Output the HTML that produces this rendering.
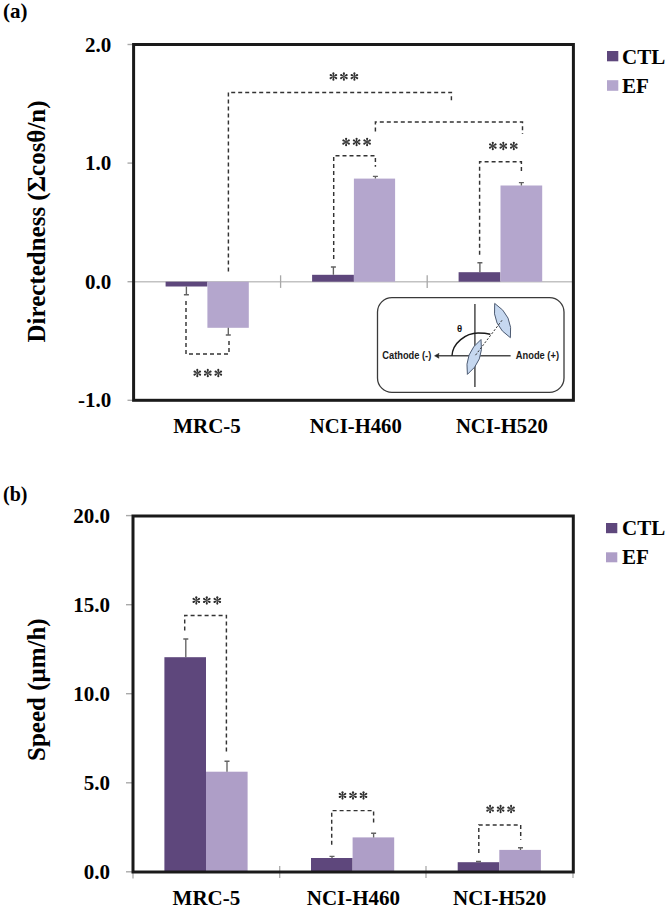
<!DOCTYPE html>
<html><head><meta charset="utf-8">
<style>
html,body{margin:0;padding:0;background:#fff;width:665px;height:906px;overflow:hidden}
svg{display:block}
.t{font-family:"Liberation Serif",serif;font-weight:bold;fill:#000}
.s{font-family:"Liberation Sans",sans-serif;font-weight:bold;fill:#1a1a1a}
.ast{font-family:"Liberation Serif",serif;font-weight:normal;fill:#2a2a2a}
</style></head><body>
<svg width="665" height="906" viewBox="0 0 665 906">

<text class="t" x="3" y="18.3" font-size="21">(a)</text>
<g class="t" font-size="21" text-anchor="end">
<text x="111.3" y="51.5">2.0</text>
<text x="111.3" y="170.1">1.0</text>
<text x="111.3" y="288.7">0.0</text>
<text x="111.3" y="407.3">-1.0</text>
</g>
<g stroke="#aaa" stroke-width="1.4">
<line x1="127.5" y1="44.5" x2="133" y2="44.5"/>
<line x1="127.5" y1="163.1" x2="133" y2="163.1"/>
<line x1="127.5" y1="281.7" x2="133" y2="281.7"/>
<line x1="127.5" y1="400.3" x2="133" y2="400.3"/>
</g>
<line x1="133" y1="281.7" x2="573" y2="281.7" stroke="#c2c2c2" stroke-width="1.5"/>
<g stroke="#a8a8a8" stroke-width="1.3"><line x1="280.6" y1="275.3" x2="280.6" y2="287.9"/><line x1="427.2" y1="275.3" x2="427.2" y2="287.9"/></g>
<g fill="#5e477c">
<rect x="165.6" y="281.7" width="41.8" height="4.8"/>
<rect x="312.1" y="274.8" width="41.8" height="6.9"/>
<rect x="458.6" y="272.2" width="41.8" height="9.5"/>
</g>
<g fill="#b4a6cd">
<rect x="207.4" y="281.7" width="41.4" height="46.1"/>
<rect x="353.9" y="178.6" width="41.2" height="103.1"/>
<rect x="500.5" y="185.5" width="41.7" height="96.2"/>
</g>
<g stroke="#626262" stroke-width="1.35" fill="none">
<path d="M186.4 286.5V294.7M183.9 294.7H188.9"/>
<path d="M228.3 327.8V335M225.8 335H230.8"/>
<path d="M333.4 274.7V267M330.9 267H335.9"/>
<path d="M375.4 178.5V176.4M372.9 176.4H377.9"/>
<path d="M479.9 272.2V262.7M477.4 262.7H482.4"/>
<path d="M521.4 185.6V182.6M518.9 182.6H523.9"/>
</g>
<g stroke="#333" stroke-width="1.45" fill="none" stroke-dasharray="4 3">
<path d="M186 301V354H229V341"/>
<path d="M228.4 271.6V92.4H451.4V102.6"/>
<path d="M375.4 131.6V122H522.5V134"/>
<path d="M333.7 259V155.8H375.4V166.7"/>
<path d="M479.6 254.7V161.7H521.4V171.4"/>
</g>
<g fill="#2e2e2e"><g transform="translate(333.40 76.60)"><path d="M-0.22 0L-1.05 -3.20A1.05 1.05 0 1 1 1.05 -3.20L0.22 0Z" transform="rotate(0)"/><path d="M-0.22 0L-1.05 -3.20A1.05 1.05 0 1 1 1.05 -3.20L0.22 0Z" transform="rotate(60)"/><path d="M-0.22 0L-1.05 -3.20A1.05 1.05 0 1 1 1.05 -3.20L0.22 0Z" transform="rotate(120)"/><path d="M-0.22 0L-1.05 -3.20A1.05 1.05 0 1 1 1.05 -3.20L0.22 0Z" transform="rotate(180)"/><path d="M-0.22 0L-1.05 -3.20A1.05 1.05 0 1 1 1.05 -3.20L0.22 0Z" transform="rotate(240)"/><path d="M-0.22 0L-1.05 -3.20A1.05 1.05 0 1 1 1.05 -3.20L0.22 0Z" transform="rotate(300)"/></g><g transform="translate(343.90 76.60)"><path d="M-0.22 0L-1.05 -3.20A1.05 1.05 0 1 1 1.05 -3.20L0.22 0Z" transform="rotate(0)"/><path d="M-0.22 0L-1.05 -3.20A1.05 1.05 0 1 1 1.05 -3.20L0.22 0Z" transform="rotate(60)"/><path d="M-0.22 0L-1.05 -3.20A1.05 1.05 0 1 1 1.05 -3.20L0.22 0Z" transform="rotate(120)"/><path d="M-0.22 0L-1.05 -3.20A1.05 1.05 0 1 1 1.05 -3.20L0.22 0Z" transform="rotate(180)"/><path d="M-0.22 0L-1.05 -3.20A1.05 1.05 0 1 1 1.05 -3.20L0.22 0Z" transform="rotate(240)"/><path d="M-0.22 0L-1.05 -3.20A1.05 1.05 0 1 1 1.05 -3.20L0.22 0Z" transform="rotate(300)"/></g><g transform="translate(354.40 76.60)"><path d="M-0.22 0L-1.05 -3.20A1.05 1.05 0 1 1 1.05 -3.20L0.22 0Z" transform="rotate(0)"/><path d="M-0.22 0L-1.05 -3.20A1.05 1.05 0 1 1 1.05 -3.20L0.22 0Z" transform="rotate(60)"/><path d="M-0.22 0L-1.05 -3.20A1.05 1.05 0 1 1 1.05 -3.20L0.22 0Z" transform="rotate(120)"/><path d="M-0.22 0L-1.05 -3.20A1.05 1.05 0 1 1 1.05 -3.20L0.22 0Z" transform="rotate(180)"/><path d="M-0.22 0L-1.05 -3.20A1.05 1.05 0 1 1 1.05 -3.20L0.22 0Z" transform="rotate(240)"/><path d="M-0.22 0L-1.05 -3.20A1.05 1.05 0 1 1 1.05 -3.20L0.22 0Z" transform="rotate(300)"/></g><g transform="translate(346.10 142.00)"><path d="M-0.22 0L-1.05 -3.20A1.05 1.05 0 1 1 1.05 -3.20L0.22 0Z" transform="rotate(0)"/><path d="M-0.22 0L-1.05 -3.20A1.05 1.05 0 1 1 1.05 -3.20L0.22 0Z" transform="rotate(60)"/><path d="M-0.22 0L-1.05 -3.20A1.05 1.05 0 1 1 1.05 -3.20L0.22 0Z" transform="rotate(120)"/><path d="M-0.22 0L-1.05 -3.20A1.05 1.05 0 1 1 1.05 -3.20L0.22 0Z" transform="rotate(180)"/><path d="M-0.22 0L-1.05 -3.20A1.05 1.05 0 1 1 1.05 -3.20L0.22 0Z" transform="rotate(240)"/><path d="M-0.22 0L-1.05 -3.20A1.05 1.05 0 1 1 1.05 -3.20L0.22 0Z" transform="rotate(300)"/></g><g transform="translate(356.60 142.00)"><path d="M-0.22 0L-1.05 -3.20A1.05 1.05 0 1 1 1.05 -3.20L0.22 0Z" transform="rotate(0)"/><path d="M-0.22 0L-1.05 -3.20A1.05 1.05 0 1 1 1.05 -3.20L0.22 0Z" transform="rotate(60)"/><path d="M-0.22 0L-1.05 -3.20A1.05 1.05 0 1 1 1.05 -3.20L0.22 0Z" transform="rotate(120)"/><path d="M-0.22 0L-1.05 -3.20A1.05 1.05 0 1 1 1.05 -3.20L0.22 0Z" transform="rotate(180)"/><path d="M-0.22 0L-1.05 -3.20A1.05 1.05 0 1 1 1.05 -3.20L0.22 0Z" transform="rotate(240)"/><path d="M-0.22 0L-1.05 -3.20A1.05 1.05 0 1 1 1.05 -3.20L0.22 0Z" transform="rotate(300)"/></g><g transform="translate(367.10 142.00)"><path d="M-0.22 0L-1.05 -3.20A1.05 1.05 0 1 1 1.05 -3.20L0.22 0Z" transform="rotate(0)"/><path d="M-0.22 0L-1.05 -3.20A1.05 1.05 0 1 1 1.05 -3.20L0.22 0Z" transform="rotate(60)"/><path d="M-0.22 0L-1.05 -3.20A1.05 1.05 0 1 1 1.05 -3.20L0.22 0Z" transform="rotate(120)"/><path d="M-0.22 0L-1.05 -3.20A1.05 1.05 0 1 1 1.05 -3.20L0.22 0Z" transform="rotate(180)"/><path d="M-0.22 0L-1.05 -3.20A1.05 1.05 0 1 1 1.05 -3.20L0.22 0Z" transform="rotate(240)"/><path d="M-0.22 0L-1.05 -3.20A1.05 1.05 0 1 1 1.05 -3.20L0.22 0Z" transform="rotate(300)"/></g><g transform="translate(492.80 146.00)"><path d="M-0.22 0L-1.05 -3.20A1.05 1.05 0 1 1 1.05 -3.20L0.22 0Z" transform="rotate(0)"/><path d="M-0.22 0L-1.05 -3.20A1.05 1.05 0 1 1 1.05 -3.20L0.22 0Z" transform="rotate(60)"/><path d="M-0.22 0L-1.05 -3.20A1.05 1.05 0 1 1 1.05 -3.20L0.22 0Z" transform="rotate(120)"/><path d="M-0.22 0L-1.05 -3.20A1.05 1.05 0 1 1 1.05 -3.20L0.22 0Z" transform="rotate(180)"/><path d="M-0.22 0L-1.05 -3.20A1.05 1.05 0 1 1 1.05 -3.20L0.22 0Z" transform="rotate(240)"/><path d="M-0.22 0L-1.05 -3.20A1.05 1.05 0 1 1 1.05 -3.20L0.22 0Z" transform="rotate(300)"/></g><g transform="translate(503.30 146.00)"><path d="M-0.22 0L-1.05 -3.20A1.05 1.05 0 1 1 1.05 -3.20L0.22 0Z" transform="rotate(0)"/><path d="M-0.22 0L-1.05 -3.20A1.05 1.05 0 1 1 1.05 -3.20L0.22 0Z" transform="rotate(60)"/><path d="M-0.22 0L-1.05 -3.20A1.05 1.05 0 1 1 1.05 -3.20L0.22 0Z" transform="rotate(120)"/><path d="M-0.22 0L-1.05 -3.20A1.05 1.05 0 1 1 1.05 -3.20L0.22 0Z" transform="rotate(180)"/><path d="M-0.22 0L-1.05 -3.20A1.05 1.05 0 1 1 1.05 -3.20L0.22 0Z" transform="rotate(240)"/><path d="M-0.22 0L-1.05 -3.20A1.05 1.05 0 1 1 1.05 -3.20L0.22 0Z" transform="rotate(300)"/></g><g transform="translate(513.80 146.00)"><path d="M-0.22 0L-1.05 -3.20A1.05 1.05 0 1 1 1.05 -3.20L0.22 0Z" transform="rotate(0)"/><path d="M-0.22 0L-1.05 -3.20A1.05 1.05 0 1 1 1.05 -3.20L0.22 0Z" transform="rotate(60)"/><path d="M-0.22 0L-1.05 -3.20A1.05 1.05 0 1 1 1.05 -3.20L0.22 0Z" transform="rotate(120)"/><path d="M-0.22 0L-1.05 -3.20A1.05 1.05 0 1 1 1.05 -3.20L0.22 0Z" transform="rotate(180)"/><path d="M-0.22 0L-1.05 -3.20A1.05 1.05 0 1 1 1.05 -3.20L0.22 0Z" transform="rotate(240)"/><path d="M-0.22 0L-1.05 -3.20A1.05 1.05 0 1 1 1.05 -3.20L0.22 0Z" transform="rotate(300)"/></g><g transform="translate(197.30 373.10)"><path d="M-0.22 0L-1.05 -3.20A1.05 1.05 0 1 1 1.05 -3.20L0.22 0Z" transform="rotate(0)"/><path d="M-0.22 0L-1.05 -3.20A1.05 1.05 0 1 1 1.05 -3.20L0.22 0Z" transform="rotate(60)"/><path d="M-0.22 0L-1.05 -3.20A1.05 1.05 0 1 1 1.05 -3.20L0.22 0Z" transform="rotate(120)"/><path d="M-0.22 0L-1.05 -3.20A1.05 1.05 0 1 1 1.05 -3.20L0.22 0Z" transform="rotate(180)"/><path d="M-0.22 0L-1.05 -3.20A1.05 1.05 0 1 1 1.05 -3.20L0.22 0Z" transform="rotate(240)"/><path d="M-0.22 0L-1.05 -3.20A1.05 1.05 0 1 1 1.05 -3.20L0.22 0Z" transform="rotate(300)"/></g><g transform="translate(207.80 373.10)"><path d="M-0.22 0L-1.05 -3.20A1.05 1.05 0 1 1 1.05 -3.20L0.22 0Z" transform="rotate(0)"/><path d="M-0.22 0L-1.05 -3.20A1.05 1.05 0 1 1 1.05 -3.20L0.22 0Z" transform="rotate(60)"/><path d="M-0.22 0L-1.05 -3.20A1.05 1.05 0 1 1 1.05 -3.20L0.22 0Z" transform="rotate(120)"/><path d="M-0.22 0L-1.05 -3.20A1.05 1.05 0 1 1 1.05 -3.20L0.22 0Z" transform="rotate(180)"/><path d="M-0.22 0L-1.05 -3.20A1.05 1.05 0 1 1 1.05 -3.20L0.22 0Z" transform="rotate(240)"/><path d="M-0.22 0L-1.05 -3.20A1.05 1.05 0 1 1 1.05 -3.20L0.22 0Z" transform="rotate(300)"/></g><g transform="translate(218.30 373.10)"><path d="M-0.22 0L-1.05 -3.20A1.05 1.05 0 1 1 1.05 -3.20L0.22 0Z" transform="rotate(0)"/><path d="M-0.22 0L-1.05 -3.20A1.05 1.05 0 1 1 1.05 -3.20L0.22 0Z" transform="rotate(60)"/><path d="M-0.22 0L-1.05 -3.20A1.05 1.05 0 1 1 1.05 -3.20L0.22 0Z" transform="rotate(120)"/><path d="M-0.22 0L-1.05 -3.20A1.05 1.05 0 1 1 1.05 -3.20L0.22 0Z" transform="rotate(180)"/><path d="M-0.22 0L-1.05 -3.20A1.05 1.05 0 1 1 1.05 -3.20L0.22 0Z" transform="rotate(240)"/><path d="M-0.22 0L-1.05 -3.20A1.05 1.05 0 1 1 1.05 -3.20L0.22 0Z" transform="rotate(300)"/></g></g>
<rect x="133.6" y="44.5" width="439.8" height="355.8" fill="none" stroke="#1a1a1a" stroke-width="3"/>
<g class="t" font-size="21" text-anchor="middle">
<text x="207" y="432.5">MRC-5</text><text x="355.8" y="432.5" font-size="20.7">NCI-H460</text><text x="501.9" y="432.5" font-size="20.7">NCI-H520</text>
</g>
<rect x="607" y="51" width="11.3" height="10.3" fill="#5e477c"/>
<rect x="607" y="80.2" width="11.3" height="10.6" fill="#b4a6cd"/>
<text class="t" x="622" y="64" font-size="21">CTL</text>
<text class="t" x="622" y="92.7" font-size="21">EF</text>
<text class="t" font-size="25" transform="translate(44.5 342.5) rotate(-90)">Directedness (Σcosθ/n)</text>
<rect x="377.5" y="297.6" width="186.5" height="94.8" rx="14.5" ry="14.5" fill="#fff" stroke="#3a3a3a" stroke-width="1.3"/>
<g stroke="#4a4a4a" stroke-width="1.5" fill="none"><line x1="474.9" y1="304" x2="474.9" y2="387"/><line x1="437.5" y1="355.8" x2="510.6" y2="355.8"/></g>
<path d="M434.6 355.8L439 353.4L438.2 355.8L439 358.2Z" fill="#222" stroke="#222" stroke-width="0.6"/>
<path d="M452 355.8C452.5 343 466 333 478 333C484 333 487.5 333.5 490.3 334.2" stroke="#1a1a1a" stroke-width="1.4" fill="none"/>
<text class="s" x="459.6" y="332.3" font-size="9.5" text-anchor="middle" style="fill:#111">θ</text>
<text class="s" x="382.3" y="358.7" font-size="10" textLength="49" lengthAdjust="spacingAndGlyphs">Cathode (-)</text>
<text class="s" x="515.8" y="358.7" font-size="10" textLength="43.2" lengthAdjust="spacingAndGlyphs">Anode (+)</text>
<path d="M481.0 339.5Q484.4 360.9 467.4 374.4Q464.0 353.0 481.0 339.5Z" fill="#c6d8f0" stroke="#46536a" stroke-width="0.95"/>
<path d="M494.7 303.4Q513.5 315.6 510.4 337.7Q491.6 325.5 494.7 303.4Z" fill="#c6d8f0" stroke="#46536a" stroke-width="0.95"/>
<line x1="475.5" y1="355.2" x2="502" y2="320.3" stroke="#333" stroke-width="1" stroke-dasharray="2.2 1.6"/>
<text class="t" x="3" y="500.5" font-size="20">(b)</text>
<g class="t" font-size="21" text-anchor="end">
<text x="110.1" y="522.8">20.0</text>
<text x="110.1" y="611.9">15.0</text>
<text x="110.1" y="700.9">10.0</text>
<text x="110.1" y="790.0">5.0</text>
<text x="110.1" y="879.0">0.0</text>
</g>
<g stroke="#aaa" stroke-width="1.4">
<line x1="126" y1="515.6" x2="132" y2="515.6"/>
<line x1="126" y1="604.7" x2="132" y2="604.7"/>
<line x1="126" y1="693.7" x2="132" y2="693.7"/>
<line x1="126" y1="782.8" x2="132" y2="782.8"/>
<line x1="126" y1="871.8" x2="132" y2="871.8"/>
</g>
<g stroke="#aaa" stroke-width="1.3">
<line x1="133" y1="872" x2="133" y2="878.5"/><line x1="279.7" y1="866" x2="279.7" y2="878"/><line x1="426" y1="866" x2="426" y2="878"/><line x1="573" y1="866" x2="573" y2="878"/>
</g>
<g fill="#5e477c">
<rect x="164.4" y="657.2" width="41.6" height="214.6"/>
<rect x="311" y="858" width="41.6" height="13.8"/>
<rect x="457.7" y="862.2" width="41.6" height="9.6"/>
</g>
<g fill="#ae9ec7">
<rect x="206" y="771.7" width="41.6" height="100.1"/>
<rect x="352.6" y="837.4" width="41.6" height="34.4"/>
<rect x="499.3" y="849.9" width="41.6" height="21.9"/>
</g>
<g stroke="#626262" stroke-width="1.35" fill="none">
<path d="M185.8 657.2V639M183.3 639H188.3"/>
<path d="M227 771.7V761.2M224.5 761.2H229.5"/>
<path d="M332 858V856.3M329.5 856.3H334.5"/>
<path d="M373.6 837.4V833.2M371.1 833.2H376.1"/>
<path d="M478.5 862.2V861.5M476.0 861.5H481.0"/>
<path d="M520.5 849.9V847.7M518.0 847.7H523.0"/>
</g>
<g stroke="#333" stroke-width="1.45" fill="none" stroke-dasharray="4 3">
<path d="M184.7 630.5V615.4H226.4V754.3"/>
<path d="M331.7 844.7V810.6H373.6V822.6"/>
<path d="M478.8 853V824.9H520.7V839.8"/>
</g>
<g fill="#2e2e2e"><g transform="translate(196.30 600.40)"><path d="M-0.22 0L-1.05 -3.20A1.05 1.05 0 1 1 1.05 -3.20L0.22 0Z" transform="rotate(0)"/><path d="M-0.22 0L-1.05 -3.20A1.05 1.05 0 1 1 1.05 -3.20L0.22 0Z" transform="rotate(60)"/><path d="M-0.22 0L-1.05 -3.20A1.05 1.05 0 1 1 1.05 -3.20L0.22 0Z" transform="rotate(120)"/><path d="M-0.22 0L-1.05 -3.20A1.05 1.05 0 1 1 1.05 -3.20L0.22 0Z" transform="rotate(180)"/><path d="M-0.22 0L-1.05 -3.20A1.05 1.05 0 1 1 1.05 -3.20L0.22 0Z" transform="rotate(240)"/><path d="M-0.22 0L-1.05 -3.20A1.05 1.05 0 1 1 1.05 -3.20L0.22 0Z" transform="rotate(300)"/></g><g transform="translate(206.80 600.40)"><path d="M-0.22 0L-1.05 -3.20A1.05 1.05 0 1 1 1.05 -3.20L0.22 0Z" transform="rotate(0)"/><path d="M-0.22 0L-1.05 -3.20A1.05 1.05 0 1 1 1.05 -3.20L0.22 0Z" transform="rotate(60)"/><path d="M-0.22 0L-1.05 -3.20A1.05 1.05 0 1 1 1.05 -3.20L0.22 0Z" transform="rotate(120)"/><path d="M-0.22 0L-1.05 -3.20A1.05 1.05 0 1 1 1.05 -3.20L0.22 0Z" transform="rotate(180)"/><path d="M-0.22 0L-1.05 -3.20A1.05 1.05 0 1 1 1.05 -3.20L0.22 0Z" transform="rotate(240)"/><path d="M-0.22 0L-1.05 -3.20A1.05 1.05 0 1 1 1.05 -3.20L0.22 0Z" transform="rotate(300)"/></g><g transform="translate(217.30 600.40)"><path d="M-0.22 0L-1.05 -3.20A1.05 1.05 0 1 1 1.05 -3.20L0.22 0Z" transform="rotate(0)"/><path d="M-0.22 0L-1.05 -3.20A1.05 1.05 0 1 1 1.05 -3.20L0.22 0Z" transform="rotate(60)"/><path d="M-0.22 0L-1.05 -3.20A1.05 1.05 0 1 1 1.05 -3.20L0.22 0Z" transform="rotate(120)"/><path d="M-0.22 0L-1.05 -3.20A1.05 1.05 0 1 1 1.05 -3.20L0.22 0Z" transform="rotate(180)"/><path d="M-0.22 0L-1.05 -3.20A1.05 1.05 0 1 1 1.05 -3.20L0.22 0Z" transform="rotate(240)"/><path d="M-0.22 0L-1.05 -3.20A1.05 1.05 0 1 1 1.05 -3.20L0.22 0Z" transform="rotate(300)"/></g><g transform="translate(342.50 795.40)"><path d="M-0.22 0L-1.05 -3.20A1.05 1.05 0 1 1 1.05 -3.20L0.22 0Z" transform="rotate(0)"/><path d="M-0.22 0L-1.05 -3.20A1.05 1.05 0 1 1 1.05 -3.20L0.22 0Z" transform="rotate(60)"/><path d="M-0.22 0L-1.05 -3.20A1.05 1.05 0 1 1 1.05 -3.20L0.22 0Z" transform="rotate(120)"/><path d="M-0.22 0L-1.05 -3.20A1.05 1.05 0 1 1 1.05 -3.20L0.22 0Z" transform="rotate(180)"/><path d="M-0.22 0L-1.05 -3.20A1.05 1.05 0 1 1 1.05 -3.20L0.22 0Z" transform="rotate(240)"/><path d="M-0.22 0L-1.05 -3.20A1.05 1.05 0 1 1 1.05 -3.20L0.22 0Z" transform="rotate(300)"/></g><g transform="translate(353.00 795.40)"><path d="M-0.22 0L-1.05 -3.20A1.05 1.05 0 1 1 1.05 -3.20L0.22 0Z" transform="rotate(0)"/><path d="M-0.22 0L-1.05 -3.20A1.05 1.05 0 1 1 1.05 -3.20L0.22 0Z" transform="rotate(60)"/><path d="M-0.22 0L-1.05 -3.20A1.05 1.05 0 1 1 1.05 -3.20L0.22 0Z" transform="rotate(120)"/><path d="M-0.22 0L-1.05 -3.20A1.05 1.05 0 1 1 1.05 -3.20L0.22 0Z" transform="rotate(180)"/><path d="M-0.22 0L-1.05 -3.20A1.05 1.05 0 1 1 1.05 -3.20L0.22 0Z" transform="rotate(240)"/><path d="M-0.22 0L-1.05 -3.20A1.05 1.05 0 1 1 1.05 -3.20L0.22 0Z" transform="rotate(300)"/></g><g transform="translate(363.50 795.40)"><path d="M-0.22 0L-1.05 -3.20A1.05 1.05 0 1 1 1.05 -3.20L0.22 0Z" transform="rotate(0)"/><path d="M-0.22 0L-1.05 -3.20A1.05 1.05 0 1 1 1.05 -3.20L0.22 0Z" transform="rotate(60)"/><path d="M-0.22 0L-1.05 -3.20A1.05 1.05 0 1 1 1.05 -3.20L0.22 0Z" transform="rotate(120)"/><path d="M-0.22 0L-1.05 -3.20A1.05 1.05 0 1 1 1.05 -3.20L0.22 0Z" transform="rotate(180)"/><path d="M-0.22 0L-1.05 -3.20A1.05 1.05 0 1 1 1.05 -3.20L0.22 0Z" transform="rotate(240)"/><path d="M-0.22 0L-1.05 -3.20A1.05 1.05 0 1 1 1.05 -3.20L0.22 0Z" transform="rotate(300)"/></g><g transform="translate(490.10 809.10)"><path d="M-0.22 0L-1.05 -3.20A1.05 1.05 0 1 1 1.05 -3.20L0.22 0Z" transform="rotate(0)"/><path d="M-0.22 0L-1.05 -3.20A1.05 1.05 0 1 1 1.05 -3.20L0.22 0Z" transform="rotate(60)"/><path d="M-0.22 0L-1.05 -3.20A1.05 1.05 0 1 1 1.05 -3.20L0.22 0Z" transform="rotate(120)"/><path d="M-0.22 0L-1.05 -3.20A1.05 1.05 0 1 1 1.05 -3.20L0.22 0Z" transform="rotate(180)"/><path d="M-0.22 0L-1.05 -3.20A1.05 1.05 0 1 1 1.05 -3.20L0.22 0Z" transform="rotate(240)"/><path d="M-0.22 0L-1.05 -3.20A1.05 1.05 0 1 1 1.05 -3.20L0.22 0Z" transform="rotate(300)"/></g><g transform="translate(500.60 809.10)"><path d="M-0.22 0L-1.05 -3.20A1.05 1.05 0 1 1 1.05 -3.20L0.22 0Z" transform="rotate(0)"/><path d="M-0.22 0L-1.05 -3.20A1.05 1.05 0 1 1 1.05 -3.20L0.22 0Z" transform="rotate(60)"/><path d="M-0.22 0L-1.05 -3.20A1.05 1.05 0 1 1 1.05 -3.20L0.22 0Z" transform="rotate(120)"/><path d="M-0.22 0L-1.05 -3.20A1.05 1.05 0 1 1 1.05 -3.20L0.22 0Z" transform="rotate(180)"/><path d="M-0.22 0L-1.05 -3.20A1.05 1.05 0 1 1 1.05 -3.20L0.22 0Z" transform="rotate(240)"/><path d="M-0.22 0L-1.05 -3.20A1.05 1.05 0 1 1 1.05 -3.20L0.22 0Z" transform="rotate(300)"/></g><g transform="translate(511.10 809.10)"><path d="M-0.22 0L-1.05 -3.20A1.05 1.05 0 1 1 1.05 -3.20L0.22 0Z" transform="rotate(0)"/><path d="M-0.22 0L-1.05 -3.20A1.05 1.05 0 1 1 1.05 -3.20L0.22 0Z" transform="rotate(60)"/><path d="M-0.22 0L-1.05 -3.20A1.05 1.05 0 1 1 1.05 -3.20L0.22 0Z" transform="rotate(120)"/><path d="M-0.22 0L-1.05 -3.20A1.05 1.05 0 1 1 1.05 -3.20L0.22 0Z" transform="rotate(180)"/><path d="M-0.22 0L-1.05 -3.20A1.05 1.05 0 1 1 1.05 -3.20L0.22 0Z" transform="rotate(240)"/><path d="M-0.22 0L-1.05 -3.20A1.05 1.05 0 1 1 1.05 -3.20L0.22 0Z" transform="rotate(300)"/></g></g>
<rect x="133" y="516" width="440.3" height="356" fill="none" stroke="#1a1a1a" stroke-width="3"/>
<g class="t" font-size="21" text-anchor="middle">
<text x="206.4" y="904.5">MRC-5</text><text x="353.4" y="904.5">NCI-H460</text><text x="499.7" y="904.5">NCI-H520</text>
</g>
<rect x="606" y="523" width="11.3" height="10.2" fill="#5e477c"/>
<rect x="606" y="552.3" width="11.3" height="10" fill="#ae9ec7"/>
<text class="t" x="622" y="535.1" font-size="21">CTL</text>
<text class="t" x="622" y="564.1" font-size="21">EF</text>
<text class="t" font-size="25" transform="translate(44.8 761) rotate(-90)">Speed (μm/h)</text>
</svg>
</body></html>
